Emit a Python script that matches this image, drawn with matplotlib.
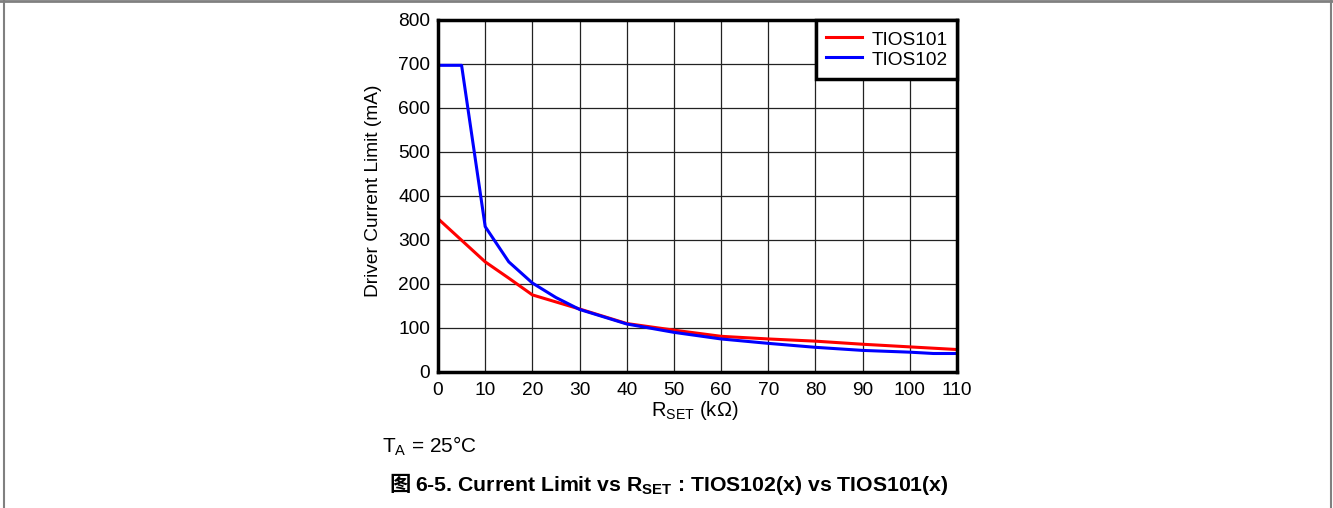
import matplotlib
matplotlib.use("Agg")
import matplotlib.pyplot as plt
from matplotlib.lines import Line2D

plt.rcParams['font.family'] = ['Liberation Sans', 'Noto Sans CJK SC', 'DejaVu Sans']
plt.rcParams['mathtext.fontset'] = 'custom'
plt.rcParams['mathtext.rm'] = 'Liberation Sans'
plt.rcParams['mathtext.it'] = 'Liberation Sans'
plt.rcParams['mathtext.bf'] = 'Liberation Sans:bold'

# R_SET (kOhm) and current limit (mA)
rset_101 = [0, 10, 15, 20, 25, 30, 40, 50, 60, 70, 80, 90, 100, 110]
ilim_101 = [348, 250, 213, 175, 159, 143, 110, 95, 81, 75, 70, 63, 57, 51]

rset_102 = [0, 5, 10, 15, 20, 25, 30, 40, 50, 60, 70, 80, 90, 100, 105, 110]
ilim_102 = [696, 696, 330, 250, 202, 169, 142, 109, 90, 75, 65, 56, 49, 45, 42, 42]

x_ticks = list(range(0, 111, 10))
y_ticks = list(range(0, 801, 100))

W, H = 1333, 508
fig = plt.figure(figsize=(W / 100, H / 100), dpi=100)
ax = fig.add_axes([438 / W, 1 - 372 / H, (957 - 438) / W, (372 - 19.5) / H])

ax.plot(rset_101, ilim_101, color='#ff0000', lw=2.2, label='TIOS101')
ax.plot(rset_102, ilim_102, color='#0000ff', lw=2.2, label='TIOS102')

ax.set_xlim(0, 110)
ax.set_ylim(0, 800)
ax.set_xticks(x_ticks)
ax.set_yticks(y_ticks)
ax.tick_params(length=0, labelsize=13.8, colors='black')
ax.tick_params(axis='x', pad=7.5)
ax.tick_params(axis='y', pad=5.5)
ax.grid(True, color='#222222', lw=0.9)
for s in ax.spines.values():
    s.set_linewidth(2.5)
    s.set_color('black')

fig.text(695 / W, 1 - 411 / H, r'R$_{\mathrm{SET}}$ (k$\Omega$)', fontsize=14.5,
         ha='center', va='center')
fig.text(373 / W, 1 - 191 / H, 'Driver Current Limit (mA)', fontsize=13.8,
         rotation=90, ha='center', va='center')

leg = ax.legend(loc='upper right', fontsize=13.7, frameon=True, fancybox=False,
                borderaxespad=0, handlelength=1.9, handleheight=1.2,
                borderpad=0.5, labelspacing=0.0, handletextpad=0.5)
leg.get_frame().set_edgecolor('black')
leg.get_frame().set_linewidth(2.5)
leg.get_frame().set_alpha(1)

fig.text(382 / W, 1 - 446 / H, r'T$_{\mathrm{A}}$ = 25°C', fontsize=15,
         ha='left', va='center')

# caption: CJK glyph separately, the rest with mathtext subscript
cap_y = 1 - 491 / H
t1 = fig.text(389 / W, cap_y, '图', fontsize=15.3, fontweight='bold',
              family=['Noto Sans CJK SC'], ha='left', va='baseline')
fig.canvas.draw()
bb = t1.get_window_extent()
fig.text((bb.x1 + 5) / W, cap_y,
         r'6-5. Current Limit vs R$_{\mathbf{SET}}$ : TIOS102(x) vs TIOS101(x)',
         fontsize=15.3, fontweight='bold', ha='left', va='baseline')

# page frame
gray = '#808080'
fig.add_artist(Line2D([0, 1], [0.998, 0.998], color=gray, lw=2, transform=fig.transFigure))
fig.add_artist(Line2D([3.5 / W, 3.5 / W], [0, 1], color=gray, lw=1.5, transform=fig.transFigure))
fig.add_artist(Line2D([1331 / W, 1331 / W], [0, 1], color=gray, lw=1.5, transform=fig.transFigure))

fig.savefig('out.png', dpi=100)
